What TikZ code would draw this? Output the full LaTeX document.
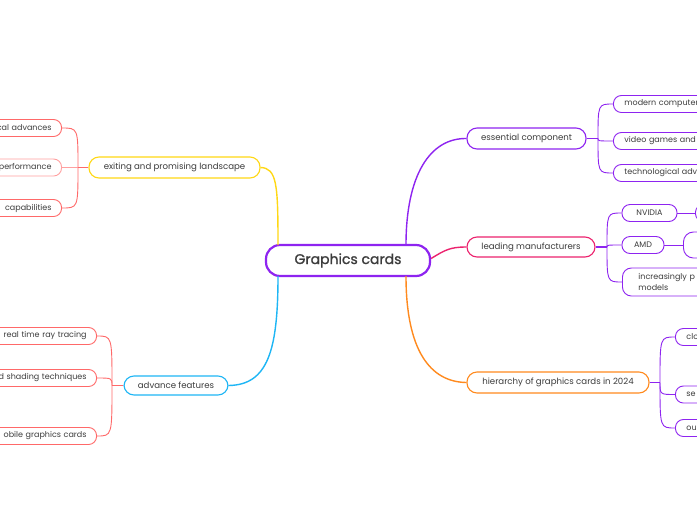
\documentclass[tikz,border=0pt]{standalone}
\usepackage{fontspec}
\setmainfont{Poppins}
\newfontfamily\medfont{Poppins}[FakeBold=1.2]
\definecolor{txt}{RGB}{60,60,60}
\definecolor{cpurple}{RGB}{142,36,240}
\definecolor{cyellow}{RGB}{255,216,20}
\definecolor{ccyan}{RGB}{30,182,245}
\definecolor{cpink}{RGB}{236,34,110}
\definecolor{corange}{RGB}{255,138,30}
\definecolor{csalmon}{RGB}{255,105,105}
\definecolor{clight}{RGB}{255,160,160}
\begin{document}
\begin{tikzpicture}[x=1pt,y=-1pt,
  box/.style={draw, rounded corners=8pt, line width=0.9pt, fill=white, text=txt,
    minimum height=17pt, inner xsep=9pt, inner ysep=0pt,
    font=\fontsize{8}{9.5}\selectfont},
  mainbox/.style={box, line width=1.1pt, minimum height=21pt, rounded corners=10pt, font=\fontsize{8.6}{10}\selectfont},
  lbox/.style={box, anchor=east, text width=110pt, align=right, inner xsep=10pt},
  rbox/.style={box, anchor=west, text width=110pt, align=left, inner xsep=11pt},
  maincon/.style={line width=1.4pt},
  stem/.style={line width=1.8pt},
  subcon/.style={line width=0.9pt}
]
\useasboundingbox (0,0) rectangle (697,520);
\fill[white] (0,0) rectangle (697,520);
\clip (0,0) rectangle (697,520);

% central
\node[box, draw=cpurple, line width=2.2pt, minimum width=164pt, minimum height=31pt,
  rounded corners=14pt, font=\medfont\fontsize{14}{16}\selectfont] (c) at (348,260.5) {Graphics cards};

% first level
\node[mainbox, draw=cyellow, minimum width=171pt] (land) at (174.5,167.5) {exiting and promising landscape};
\node[mainbox, draw=ccyan, minimum width=104pt, minimum height=19pt] (adv) at (176,385.5) {advance features};
\node[mainbox, draw=cpurple, minimum width=119pt] (ess) at (526.5,138.5) {essential component};
\node[mainbox, draw=cpink, minimum width=128pt, minimum height=20pt] (lead) at (531,247) {leading manufacturers};
\node[mainbox, draw=corange, minimum width=182pt] (hier) at (558,382.5) {hierarchy of graphics cards in 2024};

% main connectors
\draw[maincon, cyellow] (278,245) .. controls (278,185) and (277,168) .. (land.east);
\draw[maincon, ccyan] (278,276) .. controls (278,350) and (268,385) .. (adv.east);
\draw[maincon, cpurple] (406,245) .. controls (406,175) and (430,138) .. (ess.west);
\draw[maincon, cpink] (c.east) ++(0,-2) .. controls (445,250) and (450,247) .. (lead.west);
\draw[maincon, corange] (406,276) .. controls (406,350) and (430,382) .. (hier.west);

% landscape children
\node[lbox, draw=csalmon] (l1) at (62,128) {cal advances};
\node[lbox, draw=clight] (l2) at (62,167.5) {performance};
\node[lbox, draw=csalmon] (l3) at (62,208) {capabilities};
\coordinate (lb) at (78,167.5);
\draw[stem, csalmon] (land.west) -- (lb);
\draw[subcon, csalmon] (lb) .. controls (78,128) .. (l1.east);
\draw[subcon, clight] (lb) -- (l2.east);
\draw[subcon, csalmon] (lb) .. controls (78,208) .. (l3.east);

% advance children
\node[lbox, draw=csalmon] (a1) at (97,336) {real time ray tracing};
\node[lbox, draw=csalmon] (a2) at (97,378) {d shading techniques};
\node[lbox, draw=csalmon] (a3) at (97,436) {obile graphics cards};
\coordinate (ab) at (112,385.5);
\draw[stem, csalmon] (adv.west) -- (ab);
\draw[subcon, csalmon] (ab) .. controls (112,336) .. (a1.east);
\draw[subcon, csalmon] (ab) .. controls (112,378) .. (a2.east);
\draw[subcon, csalmon] (ab) .. controls (112,436) .. (a3.east);

% essential children
\node[rbox, draw=cpurple] (e1) at (613,104) {modern computer};
\node[rbox, draw=cpurple] (e2) at (613,141) {video games and};
\node[rbox, draw=cpurple] (e3) at (613,173) {technological adv};
\coordinate (eb) at (598,138.5);
\draw[stem, cpurple] (ess.east) -- (eb);
\draw[subcon, cpurple] (eb) .. controls (598,104) .. (e1.west);
\draw[subcon, cpurple] (eb) .. controls (598,141) .. (e2.west);
\draw[subcon, cpurple] (eb) .. controls (598,173) .. (e3.west);

% leading children
\node[box, draw=cpurple, minimum width=55pt] (nv) at (649.5,213) {NVIDIA};
\node[box, draw=cpurple, minimum width=42pt] (amd) at (643,245) {AMD};
\node[box, draw=cpurple, anchor=west, text width=110pt, align=left, inner xsep=16pt,
  minimum height=28pt, rounded corners=9pt, font=\fontsize{8}{10.5}\selectfont] (inc) at (622,282) {increasingly p\\models};
\coordinate (mb) at (607,247);
\draw[stem, cpurple] (lead.east) -- (mb);
\draw[subcon, cpurple] (mb) .. controls (607,213) .. (nv.west);
\draw[subcon, cpurple] (mb) .. controls (607,245) .. (amd.west);
\draw[subcon, cpurple] (mb) .. controls (607,282) .. (inc.west);

\node[box, draw=cpurple, anchor=west, minimum width=50pt] (nv1) at (695,213) {};
\node[box, draw=cpurple, anchor=west, minimum width=60pt, minimum height=26pt, rounded corners=10pt] (amd1) at (683,245) {};
\draw[subcon, cpurple] (nv.east) -- (nv1.west);
\draw[subcon, cpurple] (amd.east) -- (amd1.west);

% hierarchy children
\node[rbox, draw=cpurple] (h1) at (675,337) {clo};
\node[rbox, draw=cpurple] (h2) at (675,394.5) {se};
\node[rbox, draw=cpurple] (h3) at (675,428) {ou};
\coordinate (hb) at (660,382.5);
\draw[stem, cpurple] (hier.east) -- (hb);
\draw[subcon, cpurple] (hb) .. controls (660,337) .. (h1.west);
\draw[subcon, cpurple] (hb) .. controls (660,394.5) .. (h2.west);
\draw[subcon, cpurple] (hb) .. controls (660,428) .. (h3.west);
\end{tikzpicture}
\end{document}
